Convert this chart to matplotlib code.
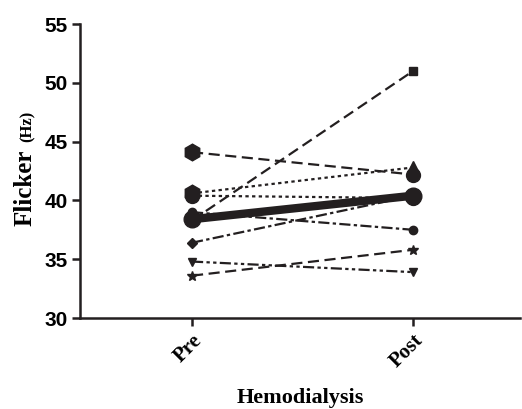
import matplotlib
matplotlib.use("Agg")
import matplotlib.pyplot as plt
from matplotlib.transforms import ScaledTranslation

phases = ["Pre", "Post"]

# one entry per subject line (pre, post)
hex_dash = [44.1, 42.2]
tri_dot = [40.6, 42.8]
circ_dot = [40.4, 40.2]
square_dash = [38.3, 51.0]
small_circ = [39.0, 37.5]
diamond = [36.4, 40.4]
tri_down = [34.8, 33.9]
star = [33.6, 35.8]
mean_line = [38.4, 40.4]

fig = plt.figure(figsize=(5.22, 4.09), dpi=100)
ax = fig.add_axes([80 / 522, (409 - 318) / 409, 440 / 522, (318 - 24) / 409])

x = [0, 1]
ink = "#231f20"
k = dict(color=ink, lw=1.6)
ax.plot(x, hex_dash, ls=(0, (5, 2.5)), marker="h", ms=12, markevery=[0], **k)
ax.plot(x[1:], hex_dash[1:], ls="none", marker="o", ms=10, color=ink)
ax.plot(x, tri_dot, ls=(0, (1.5, 1.5)), marker="h", ms=12, markevery=[0], **k)
ax.plot(x[1:], tri_dot[1:], ls="none", marker="^", ms=8, color=ink)
ax.plot(x, circ_dot, ls=(0, (1.5, 1.5)), marker="o", ms=10, **k)
ax.plot(x, square_dash, ls=(0, (5, 2.5)), marker="s", ms=6, **k)
ax.plot(x, small_circ, ls=(0, (5, 1.5, 1.5, 1.5)), marker="o", ms=6, **k)
ax.plot(x, diamond, ls=(0, (5, 1.5, 1.5, 1.5)), marker="D", ms=5, **k)
ax.plot(x, tri_down, ls=(0, (5, 1.5, 1.5, 1.5, 1.5, 1.5)), marker="v", ms=6, **k)
ax.plot(x, star, ls=(0, (5, 2.5)), marker="*", ms=7, **k)
ax.plot(x, mean_line, color=ink, lw=6, marker="o", ms=12, solid_capstyle="butt")

ax.set_xlim(-0.507, 1.484)
ax.set_ylim(30, 55)
ax.set_yticks([30, 35, 40, 45, 50, 55])
ax.set_xticks(x)
ax.set_xticklabels(phases, rotation=45, ha="right", va="top", rotation_mode="anchor",
                   fontfamily="Liberation Serif", fontweight="bold", fontsize=15)
shift = ScaledTranslation(-0.085, -0.085, fig.dpi_scale_trans)
for lab in ax.get_xticklabels():
    lab.set_transform(lab.get_transform() + shift)
for lab in ax.get_yticklabels():
    lab.set_fontfamily("Liberation Sans")
    lab.set_fontweight("bold")
    lab.set_fontsize(15)

for side in ["top", "right"]:
    ax.spines[side].set_visible(False)
for side in ["left", "bottom"]:
    ax.spines[side].set_linewidth(1.8)
    ax.spines[side].set_color(ink)
ax.tick_params(direction="out", length=6, width=1.8, color=ink, pad=3)

ax.set_xlabel("Hemodialysis", fontfamily="Liberation Serif", fontweight="bold",
              fontsize=16, labelpad=12)
fig.text(32 / 522, (409 - 188) / 409, "Flicker", rotation=90, rotation_mode="anchor",
         ha="center", va="baseline",
         fontfamily="Liberation Serif", fontweight="bold", fontsize=18)
fig.text(32 / 522, (409 - 126) / 409, "(Hz)", rotation=90, rotation_mode="anchor",
         ha="center", va="baseline",
         fontfamily="Liberation Serif", fontweight="bold", fontsize=12)

fig.savefig("out.png", dpi=100)
